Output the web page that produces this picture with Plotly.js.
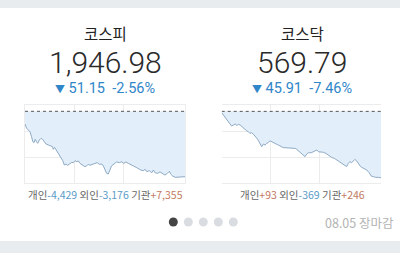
<!DOCTYPE html>
<html><head><meta charset="utf-8">
<script src="https://cdn.plot.ly/plotly-3.0.1.min.js"></script>
<style>html,body{margin:0;padding:0;background:#fff;}#c{width:400px;height:253px;}</style>
</head><body><div id="c"></div>
<script>
// ---- data ----
const kospiName = "코스피";
const kospiClose = 1946.98;
const kospiChange = 51.15;
const kospiPct = -2.56;
const kospiMin = [0,4,8,12,16,19,22,25,28,31,35,39,43,46,51,57,63,67,69,72,76,80,84,88,92,96,100,104,108,114,118,122,126,130,134,141,146,150,154,158,165,171,176,181,187,191,195,199,203,207,211,217,223,230,236,241,246,252,258,264,271,276,282,288,293,297,303,309,313,317,323,329,336,341,347,352,355,360,366,374,382,390];
const kospiVal = [1988.2,1984.8,1983.5,1982.2,1978.3,1974.4,1973.6,1976.2,1974.4,1973.1,1975.7,1977.0,1976.2,1974.4,1972.6,1971.8,1971.0,1970.5,1968.4,1969.9,1967.9,1965.8,1962.6,1961.4,1959.5,1956.1,1956.9,1955.9,1956.7,1958.2,1958.0,1959.5,1958.7,1959.3,1957.4,1956.1,1954.8,1955.4,1956.7,1955.9,1956.9,1957.4,1958.0,1956.7,1956.9,1955.4,1951.7,1949.6,1949.1,1951.7,1955.4,1956.9,1958.5,1958.0,1958.7,1957.4,1958.5,1957.4,1956.7,1955.4,1954.3,1953.3,1952.2,1951.7,1952.7,1950.9,1951.7,1950.1,1952.2,1950.1,1949.6,1950.7,1949.1,1948.3,1949.6,1951.2,1949.1,1947.5,1946.5,1946.5,1947.0,1946.98];
const kospiFlows = [["개인",-4429],["외인",-3176],["기관",7355]];

const kosdaqName = "코스닥";
const kosdaqClose = 569.79;
const kosdaqChange = 45.91;
const kosdaqPct = -7.46;
const kosdaqMin = [0,4,8,12,16,20,24,29,33,37,41,45,49,53,57,61,65,69,73,78,82,86,90,94,98,102,106,110,114,118,122,126,131,135,139,143,147,151,155,163,171,180,184,188,192,196,200,204,208,212,219,224,228,233,237,243,249,255,261,265,269,276,282,287,294,300,306,310,314,318,322,326,330,335,339,343,349,355,361,366,371,377,384,390];
const kosdaqVal = [614.8,613.2,611.6,610.2,608.6,607.0,605.6,606.3,607.0,606.0,606.7,606.3,605.1,604.0,603.3,602.3,601.7,600.5,601.0,599.8,598.7,597.1,595.4,593.6,591.3,593.1,592.4,593.6,594.1,595.4,594.7,594.1,593.6,592.9,592.4,591.8,591.3,590.6,590.6,590.4,590.4,590.1,589.4,588.5,587.6,586.7,585.5,584.4,586.2,587.1,587.1,587.8,588.5,589.0,587.8,587.8,587.4,586.7,585.5,584.8,583.9,583.2,582.1,580.9,579.8,578.6,577.5,579.8,580.9,580.2,581.6,582.5,581.6,579.3,577.9,577.0,576.3,575.2,573.3,571.0,570.6,570.1,570.1,569.79];
const kosdaqFlows = [["개인",93],["외인",-369],["기관",246]];

const dateLabel = "08.05 장마감";
const gridMinutes = [0,120,240,390];

// ---- helpers ----
const fmt = (v,d) => v.toLocaleString('en-US',{minimumFractionDigits:d,maximumFractionDigits:d});
const prev1 = +(kospiClose + kospiChange).toFixed(2);
const prev2 = +(kosdaqClose + kosdaqChange).toFixed(2);
const range1 = [1942.06, 2003.06];
const range2 = [566.2, 620.1];
const thirds = r => [0,1,2,3].map(k => r[0] + k*(r[1]-r[0])/3);

const lineCol = '#8eaac4', fillCol = '#e2eefa', gridCol = '#ececec';
function traces(xa, ya, mins, vals, prev){
  return [
    {x:[mins[0], mins[mins.length-1]], y:[prev,prev], xaxis:xa, yaxis:ya, mode:'lines', line:{width:0,color:'rgba(0,0,0,0)'}, hoverinfo:'skip', showlegend:false},
    {x:mins, y:vals, xaxis:xa, yaxis:ya, mode:'lines', fill:'tonexty', fillcolor:fillCol, line:{color:lineCol,width:1}, showlegend:false}
  ];
}
function xax(dom){ return {domain:dom, range:[0,390], tickvals:gridMinutes, showticklabels:false, showgrid:true, gridcolor:gridCol, zeroline:false, showline:true, mirror:true, linecolor:gridCol, linewidth:1, ticks:''}; }
function yax(dom, r){ return {domain:dom, range:r, tickvals:thirds(r), showticklabels:false, showgrid:true, gridcolor:gridCol, zeroline:false, showline:true, mirror:true, linecolor:gridCol, linewidth:1, ticks:''}; }

const yDom = [1-183/253, 1-105/253];
const data = [...traces('x','y',kospiMin,kospiVal,prev1), ...traces('x2','y2',kosdaqMin,kosdaqVal,prev2)];

const blue = '#2f86c9', dark = '#222', grey = '#666';
function flowText(f){
  return f.map(([k,v]) => '<span style="color:#666">'+k+'</span><span style="color:'+(v<0?'#5b9cc8':'#c27a62')+'">'+(v<0?'-':'+')+fmt(Math.abs(v),0)+'</span>').join(' ');
}
const fontK = "'Noto Sans CJK KR', Roboto, sans-serif";
const fontN = "Roboto, 'Noto Sans CJK KR', sans-serif";
const fontL = "'Roboto Light', Roboto, 'Noto Sans CJK KR', sans-serif";
function ann(x, ypx, text, font, extra){
  return Object.assign({x:x, y:1-ypx/253, xref:'paper', yref:'paper', xanchor:'center', yanchor:'middle', borderpad:0, text:text, showarrow:false, font:font}, extra||{});
}
function header(cx, name, close, ch, pct, flows){
  return [
    ann(cx, 33, name, {family:fontK, size:15.5, color:dark}),
    ann(cx, 62, fmt(close,2), {family:fontL, size:30, color:'#2a2a2a', weight:200}),
    ann(cx, 88, '<span style="font-size:10px">▼</span> '+fmt(ch,2)+'  '+fmt(pct,2)+'%', {family:fontN, size:14.5, color:blue}),
    ann(cx, 194, flowText(flows), {family:fontK, size:10.5, color:grey})
  ];
}
const annotations = [
  ...header(0.2625, kospiName, kospiClose, kospiChange, kospiPct, kospiFlows),
  ...header(0.755, kosdaqName, kosdaqClose, kosdaqChange, kosdaqPct, kosdaqFlows),
  ann(395/400, 222, dateLabel, {family:fontK, size:12.5, color:'#b3b3b3'}, {xanchor:'right'})
];
const shapes = [
  {type:'rect', xref:'paper', yref:'paper', x0:0, x1:1, y0:1-8/253, y1:1, fillcolor:'#e9ecef', line:{width:0}, layer:'below'},
  {type:'rect', xref:'paper', yref:'paper', x0:0, x1:1, y0:0, y1:1-241/253, fillcolor:'#e9ecef', line:{width:0}, layer:'below'},
  {type:'line', xref:'x', yref:'y', x0:0, x1:390, y0:prev1, y1:prev1, line:{color:'#555', width:1, dash:'dot'}},
  {type:'line', xref:'x2', yref:'y2', x0:0, x1:390, y0:prev2, y1:prev2, line:{color:'#555', width:1, dash:'dot'}}
];
const dotX = [173.3,188.3,203.3,218.3,233.3];
dotX.forEach((cx,i)=>{
  shapes.push({type:'circle', xref:'paper', yref:'paper', x0:(cx-4.5)/400, x1:(cx+4.5)/400, y0:1-(222+4.5)/253, y1:1-(222-4.5)/253, fillcolor:i===0?'#444':'#d9dde1', line:{width:0}});
});

const layout = {
  width:400, height:253, margin:{l:0,r:0,t:0,b:0},
  paper_bgcolor:'#fff', plot_bgcolor:'#fff', showlegend:false,
  xaxis:xax([25/400,185/400]), yaxis:yax(yDom, range1),
  xaxis2:xax([221.7/400,381/400]), yaxis2:yax(yDom, range2),
  annotations, shapes
};
Plotly.newPlot('c', data, layout, {staticPlot:true, displayModeBar:false});
</script></body></html>
